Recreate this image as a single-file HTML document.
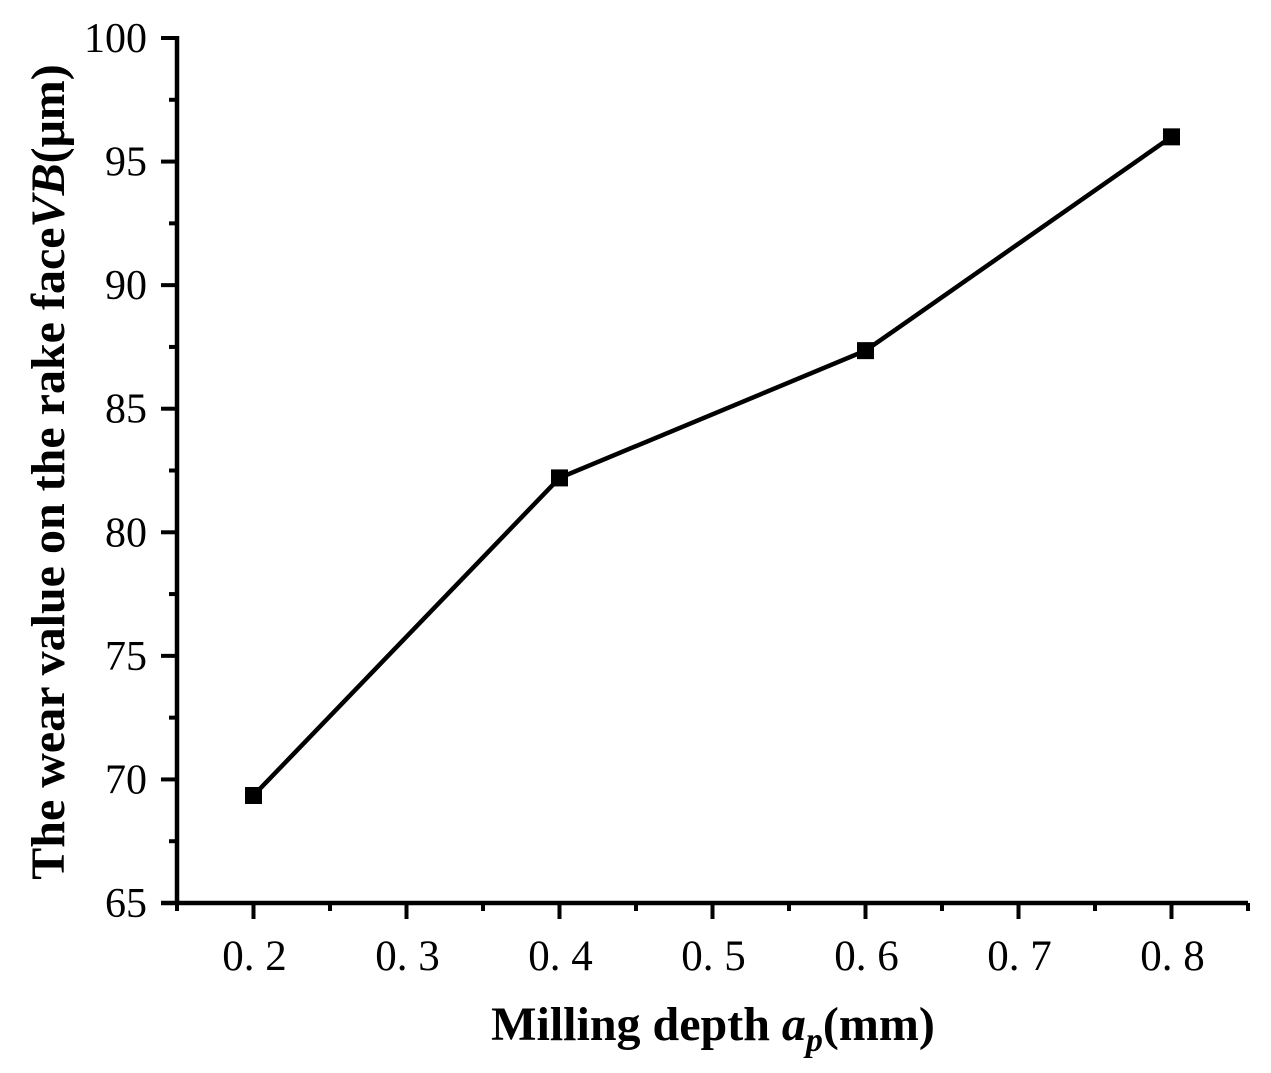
<!DOCTYPE html>
<html><head><meta charset="utf-8"><style>
body{margin:0;background:#fff;}
svg{display:block;font-family:"Liberation Serif",serif;}
</style></head><body>
<svg id="chart" width="1271" height="1073" viewBox="0 0 1271 1073">
<g id="axes"></g>
<g id="plot"></g>
<text transform="translate(64,472) rotate(-90)" text-anchor="middle" font-size="48" font-weight="bold">The wear value on the rake face<tspan font-style="italic">VB</tspan>(μm)</text>
<text x="713" y="1040" text-anchor="middle" font-size="48" font-weight="bold">Milling depth <tspan font-style="italic">a</tspan><tspan font-style="italic" font-size="34" dy="11">p</tspan><tspan dy="-11">(mm)</tspan></text>
</svg>
<script>
const xValues=[0.2,0.4,0.6,0.8];
const yValues=[69.35,82.2,87.35,96.0];
const xTicks=[0.2,0.3,0.4,0.5,0.6,0.7,0.8];
const xTickLabels=["0. 2","0. 3","0. 4","0. 5","0. 6","0. 7","0. 8"];
const yTicks=[65,70,75,80,85,90,95,100];
const xMin=0.15,xMax=0.85,yMin=65,yMax=100;
const L=177,R=1248,T=38,B=903;
const sx=v=>L+(v-xMin)/(xMax-xMin)*(R-L);
const sy=v=>B-(v-yMin)/(yMax-yMin)*(B-T);
const NS="http://www.w3.org/2000/svg";
const axes=document.getElementById('axes'),plot=document.getElementById('plot');
function mk(t,a,p){const e=document.createElementNS(NS,t);for(const k in a)e.setAttribute(k,a[k]);p.appendChild(e);return e;}
let e;
e=mk('line',{x1:L,y1:T-2,x2:L,y2:B+2,stroke:'#000','stroke-width':4.5},axes);


e=mk('line',{x1:161,y1:B,x2:R,y2:B,stroke:'#000','stroke-width':4.5},axes);


yTicks.forEach((v,i)=>{
 e=mk('line',{x1:L-16,y1:sy(v),x2:L,y2:sy(v),stroke:'#000','stroke-width':4},axes);
 
 
 if(i<yTicks.length-1){
  e=mk('line',{x1:L-8,y1:sy(v+2.5),x2:L,y2:sy(v+2.5),stroke:'#000','stroke-width':4},axes);
  
  
 }
 e=mk('text',{x:147,y:sy(v)+14,'text-anchor':'end','font-size':42},axes);
 e.textContent=v;
 
 
});
xTicks.forEach((v,i)=>{
 e=mk('line',{x1:sx(v),y1:B,x2:sx(v),y2:B+16,stroke:'#000','stroke-width':4},axes);
 
 
 e=mk('text',{x:sx(v)+1,y:970,'text-anchor':'middle','font-size':43},axes);
 e.textContent=xTickLabels[i];
 
 
});
[0.15,0.25,0.35,0.45,0.55,0.65,0.75,0.85].forEach(v=>{
 e=mk('line',{x1:sx(v),y1:B,x2:sx(v),y2:B+8,stroke:'#000','stroke-width':4},axes);
 
 
});
e=mk('polyline',{points:xValues.map((x,i)=>sx(x)+','+sy(yValues[i])).join(' '),fill:'none',stroke:'#000','stroke-width':4.5},plot);


xValues.forEach((x,i)=>{
 e=mk('rect',{x:sx(x)-8.5,y:sy(yValues[i])-8.5,width:17,height:17,fill:'#000'},plot);
 
 
});
</script>
</body></html>
